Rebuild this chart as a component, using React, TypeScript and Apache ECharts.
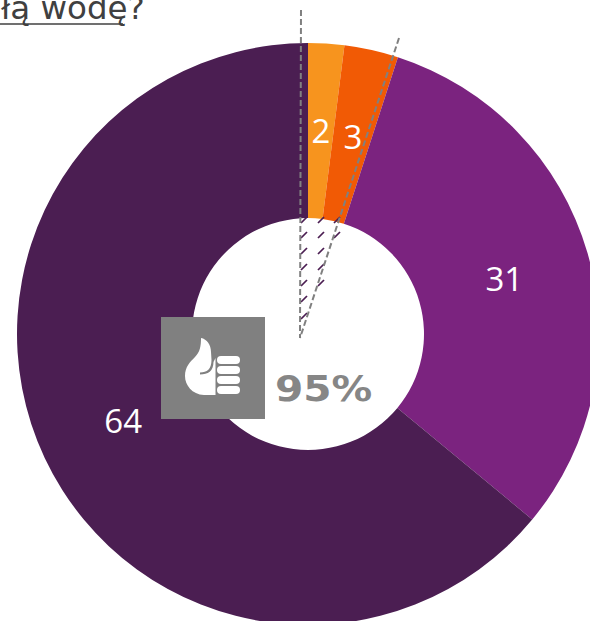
import React, { useEffect, useRef } from "react";
import * as echarts from "echarts";

const categories = ["A", "B", "C", "D"];
const values = [2, 3, 31, 64];
const colors = ["#F7941E", "#F15A05", "#7B237F", "#4B1E52"];
const titleText = "łą wodę?";
const kpiText = "95%";

const hatchRows = [220, 235, 251, 267, 283, 299, 316];
const hatchCols = [304, 321, 337];
const hatchRowCounts = [7, 5, 2];

const handPath =
  "M201 338 C207 339 211 345 211 352 L211.5 360 C211.5 369 207 372.5 200 372.5 L200 374.5 C208 374.5 213.5 371 213.5 362 L215.5 358 L215.5 395 L204 395 C192 394.5 185 385 185 376 C185 367 190 362 195 357 C200 352 201 346 201 338 Z";

echarts.graphic.registerShape("thumbHand", echarts.graphic.extendPath(handPath, {}));

export default function App() {
  const ref = useRef<HTMLDivElement>(null);
  useEffect(() => {
    const chart = echarts.init(ref.current!, undefined, { renderer: "svg" });
    const hatch: any[] = [];
    hatchCols.forEach((x, c) => {
      hatchRows.slice(0, hatchRowCounts[c]).forEach((y) => {
        hatch.push({
          type: "line",
          z: 5,
          shape: { x1: x - 3, y1: y + 3, x2: x + 3, y2: y - 3 },
          style: { stroke: "#4B1E52", lineWidth: 1.7 },
        });
      });
    });
    const pills = [360, 370, 380, 390].map((y) => ({
      type: "rect",
      z: 12,
      shape: { x: 217, y: y - 4, width: 23, height: 8, r: 4 },
      style: { fill: "#FFFFFF" },
    }));
    const labelShift = [[0, 3], [0, 4], [-2, 2], [2, -1]];
    chart.setOption({
      animation: false,
      series: [
        {
          type: "pie",
          center: [308, 334],
          radius: [116, 291],
          startAngle: 90,
          clockwise: true,
          silent: true,
          data: categories.map((name, i) => ({
            name,
            value: values[i],
            itemStyle: { color: colors[i] },
            label: { offset: labelShift[i] },
          })),
          label: {
            show: true,
            position: "inside",
            formatter: "{c}",
            color: "#FFFFFF",
            fontFamily: "Open Sans",
            fontSize: 33,
          },
          labelLine: { show: false },
        },
      ],
      graphic: {
        elements: [
          ...hatch,
          {
            type: "line",
            z: 6,
            shape: { x1: 301, y1: 10, x2: 300, y2: 338 },
            style: { stroke: "#808080", lineWidth: 2, lineDash: [6, 3] },
          },
          {
            type: "line",
            z: 6,
            shape: { x1: 399, y1: 38, x2: 300, y2: 338 },
            style: { stroke: "#808080", lineWidth: 2, lineDash: [6, 3] },
          },
          {
            type: "rect",
            z: 10,
            shape: { x: 161, y: 317, width: 104, height: 102 },
            style: { fill: "#808080" },
          },
          { type: "thumbHand", z: 12, x: 0, y: 0, style: { fill: "#FFFFFF" } },
          ...pills,
          {
            type: "text",
            z: 12,
            x: 275,
            y: 388,
            scaleX: 1.13,
            style: {
              text: kpiText,
              fill: "#868686",
              fontFamily: "DejaVu Sans",
              fontWeight: "bold",
              fontSize: 36,
              verticalAlign: "middle",
            },
          },
          {
            type: "text",
            z: 12,
            x: 1,
            y: 24.5,
            style: {
              text: titleText,
              fill: "#404040",
              fontFamily: "DejaVu Sans",
              fontSize: 32.5,
              verticalAlign: "bottom",
            },
          },
          {
            type: "line",
            z: 12,
            shape: { x1: 0, y1: 24, x2: 123, y2: 24 },
            style: { stroke: "#404040", lineWidth: 1.6 },
          },
        ],
      },
    });
    return () => chart.dispose();
  }, []);
  return (
    <div
      ref={ref}
      style={{ position: "absolute", left: 0, top: 0, width: 590, height: 621, overflow: "hidden", background: "#FFFFFF" }}
    />
  );
}
